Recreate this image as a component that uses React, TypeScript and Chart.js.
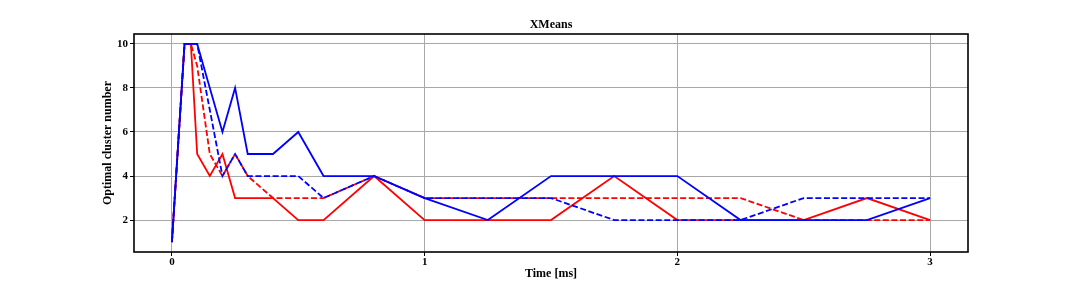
import React, { useEffect, useRef } from "react";
import { Chart, registerables } from "chart.js";

Chart.register(...registerables);

const times = [0, 0.05, 0.075, 0.1, 0.15, 0.2, 0.25, 0.3, 0.4, 0.5, 0.6, 0.8, 1, 1.25, 1.5, 1.75, 2, 2.25, 2.5, 2.75, 3];
const blueSolid = [1, 10, 10, 10, 8, 6, 8, 5, 5, 6, 4, 4, 3, 2, 4, 4, 4, 2, 2, 2, 3];
const blueDashed = [1, 10, 10, 10, 7, 4, 5, 4, 4, 4, 3, 4, 3, 3, 3, 2, 2, 2, 3, 3, 3];
const redSolid = [1, 10, 10, 5, 4, 5, 3, 3, 3, 2, 2, 4, 2, 2, 2, 4, 2, 2, 2, 3, 2];
const redDashed = [1, 10, 10, 9, 5, 4, 5, 4, 3, 3, 3, 4, 3, 3, 3, 3, 3, 3, 2, 2, 2];

const xTicks = [0, 1, 2, 3];
const yTicks = [2, 4, 6, 8, 10];

const FONT = "'Liberation Serif', 'DejaVu Serif', serif";

const toPts = (ys: number[]) => ys.map((y, i) => ({ x: times[i], y }));

const framePlugin = {
  id: "frame",
  afterDraw(chart: any) {
    const { ctx, chartArea } = chart;
    ctx.save();
    ctx.strokeStyle = "#000";
    ctx.lineWidth = 1.6;
    ctx.strokeRect(chartArea.left, chartArea.top, chartArea.right - chartArea.left, chartArea.bottom - chartArea.top);
    ctx.restore();
  },
};

export default function App() {
  const ref = useRef<HTMLCanvasElement>(null);
  useEffect(() => {
    if (!ref.current) return;
    const chart = new Chart(ref.current, {
      type: "line",
      data: {
        datasets: [
          { label: "a", data: toPts(blueSolid), borderColor: "#0000ff", borderWidth: 1.8 },
          { label: "b", data: toPts(blueDashed), borderColor: "#0000ff", borderWidth: 1.8, borderDash: [6, 2.6] },
          { label: "c", data: toPts(redDashed), borderColor: "#ff0000", borderWidth: 1.8, borderDash: [6, 2.6] },
          { label: "d", data: toPts(redSolid), borderColor: "#ff0000", borderWidth: 1.8 },
        ],
      },
      options: {
        animation: false,
        responsive: false,
        devicePixelRatio: 1,
        layout: { padding: { left: 0, right: 108, top: 0, bottom: 0 } },
        elements: { point: { radius: 0 }, line: { tension: 0, fill: false } },
        plugins: {
          legend: { display: false },
          tooltip: { enabled: false },
          title: {
            display: true,
            text: "XMeans",
            fullSize: false,
            color: "#000",
            font: { family: FONT, size: 12, weight: "bold", lineHeight: 1.2 },
            padding: { top: 17.8, bottom: 1.8 },
          },
        },
        scales: {
          x: {
            type: "linear",
            min: -0.15,
            max: 3.15,
            afterBuildTicks: (s: any) => { s.ticks = xTicks.map((v) => ({ value: v })); },
            afterFit: (s: any) => { s.height = 29; },
            grid: { color: "#a8a8a8", lineWidth: 1, tickColor: "#000", tickLength: 4, drawTicks: true },
            border: { display: false },
            ticks: { color: "#000", font: { family: FONT, size: 11, weight: "bold" }, padding: 0, maxRotation: 0 },
            title: {
              display: true,
              text: "Time [ms]",
              color: "#000",
              font: { family: FONT, size: 12, weight: "bold", lineHeight: 1.2 },
              padding: { top: 0, bottom: 0 },
            },
          },
          y: {
            type: "linear",
            min: 0.55,
            max: 10.45,
            afterBuildTicks: (s: any) => { s.ticks = yTicks.map((v) => ({ value: v })); },
            afterFit: (s: any) => { s.width = 134; },
            grid: { color: "#a8a8a8", lineWidth: 1, tickColor: "#000", tickLength: 4, drawTicks: true },
            border: { display: false },
            ticks: { color: "#000", font: { family: FONT, size: 11, weight: "bold" }, padding: 2 },
            title: {
              display: true,
              text: "Optimal cluster number",
              color: "#000",
              font: { family: FONT, size: 12, weight: "bold", lineHeight: 1.2 },
              padding: { top: 101, bottom: 0 },
            },
          },
        },
      },
      plugins: [framePlugin],
    });
    return () => chart.destroy();
  }, []);
  return (
    <div style={{ position: "absolute", left: 0, top: 0, width: 1076, height: 281, background: "#fff" }}>
      <canvas ref={ref} width={1076} height={281} style={{ display: "block" }} />
    </div>
  );
}
